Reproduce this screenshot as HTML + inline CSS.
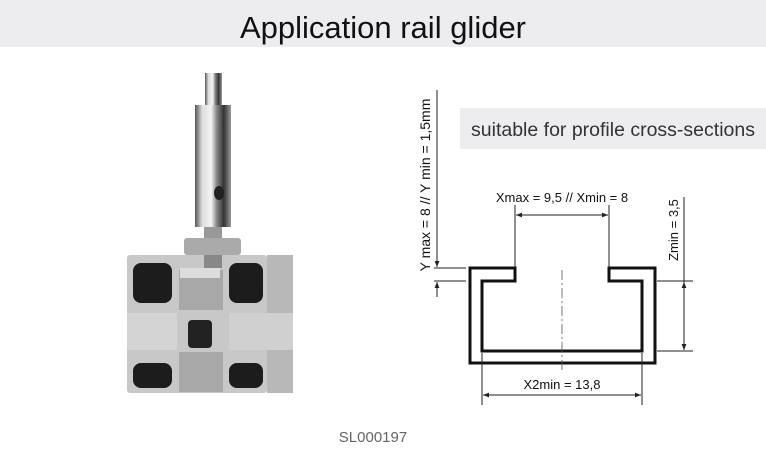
<!DOCTYPE html>
<html><head><meta charset="utf-8"><style>
html,body{margin:0;padding:0;background:#fff;}
body{width:766px;height:450px;position:relative;overflow:hidden;font-family:"Liberation Sans",sans-serif;}
</style></head><body>
<svg width="766" height="450" viewBox="0 0 766 450" xmlns="http://www.w3.org/2000/svg" style="position:absolute;left:0;top:0">
<defs>
<linearGradient id="metal" x1="0" x2="1" y1="0" y2="0">
<stop offset="0" stop-color="#555"/><stop offset="0.2" stop-color="#ddd"/><stop offset="0.45" stop-color="#f4f4f4"/><stop offset="0.6" stop-color="#888"/><stop offset="0.8" stop-color="#333"/><stop offset="1" stop-color="#999"/>
</linearGradient>
<marker id="ar" viewBox="0 0 10 10" refX="10" refY="5" markerWidth="8" markerHeight="6" orient="auto-start-reverse"><path d="M0,1 L10,5 L0,9 z" fill="#222"/></marker>
</defs>
<rect x="0" y="0" width="766" height="47" fill="#ededf0"/>
<text x="383" y="38" text-anchor="middle" font-size="31" fill="#111">Application rail glider</text>

<!-- photo -->
<rect x="267" y="255" width="26" height="138" fill="#b8b8b8"/>
<rect x="127" y="255" width="140" height="138" fill="#c8c8c8" rx="3"/>
<rect x="127" y="313" width="50" height="37" fill="#d4d4d4"/>
<rect x="229" y="313" width="64" height="37" fill="#d0d0d0"/>
<rect x="133" y="263" width="39" height="40" fill="#1c1c1c" rx="8"/>
<rect x="229" y="263" width="34" height="40" fill="#1c1c1c" rx="8"/>
<rect x="133" y="363" width="39" height="25" fill="#1c1c1c" rx="8"/>
<rect x="229" y="363" width="34" height="25" fill="#1c1c1c" rx="8"/>
<rect x="179" y="270" width="44" height="40" fill="#a8a8a8"/>
<rect x="179" y="352" width="44" height="40" fill="#a8a8a8"/>
<rect x="188" y="320" width="24" height="28" fill="#222" rx="4"/>
<rect x="180" y="268" width="40" height="10" fill="#ddd"/>
<rect x="205" y="73" width="17" height="34" fill="url(#metal)"/>
<rect x="195" y="105" width="36" height="122" fill="url(#metal)"/>
<ellipse cx="219" cy="193" rx="5" ry="7" fill="#222"/>
<rect x="204" y="227" width="18" height="13" fill="#999"/>
<rect x="184" y="238" width="57" height="17" fill="#aaa" rx="3"/>
<rect x="204" y="255" width="18" height="13" fill="#888"/>
<text x="373" y="442" text-anchor="middle" font-size="15" fill="#666">SL000197</text>

<!-- diagram -->
<rect x="460" y="108" width="306" height="41" fill="#ededf0"/>
<text x="613" y="136" text-anchor="middle" font-size="19.5" fill="#333">suitable for profile cross-sections</text>

<path d="M470,268 H515 V281 H482 V351 H642 V281 H609 V268 H655 V363 H470 Z" fill="none" stroke="#111" stroke-width="3"/>
<line x1="562" y1="270" x2="562" y2="372" stroke="#555" stroke-width="0.8" stroke-dasharray="10,3,2,3"/>

<g stroke="#222" stroke-width="1" fill="none">
<line x1="515" y1="205" x2="515" y2="267"/>
<line x1="609" y1="205" x2="609" y2="267"/>
<line x1="516" y1="215" x2="608" y2="215" marker-start="url(#ar)" marker-end="url(#ar)"/>
<line x1="482" y1="353" x2="482" y2="405"/>
<line x1="642" y1="353" x2="642" y2="405"/>
<line x1="483" y1="395" x2="641" y2="395" marker-start="url(#ar)" marker-end="url(#ar)"/>
<line x1="657" y1="281" x2="693" y2="281"/>
<line x1="657" y1="351" x2="693" y2="351"/>
<line x1="684" y1="197" x2="684" y2="282"/>
<line x1="684" y1="282" x2="684" y2="350" marker-start="url(#ar)" marker-end="url(#ar)"/>
<line x1="434" y1="268" x2="466" y2="268"/>
<line x1="434" y1="281" x2="466" y2="281"/>
<line x1="437" y1="90" x2="437" y2="267" marker-end="url(#ar)"/>
<line x1="437" y1="297" x2="437" y2="282" marker-end="url(#ar)"/>
</g>
<text x="562" y="202" text-anchor="middle" font-size="13" fill="#111">Xmax = 9,5 // Xmin = 8</text>
<text x="562" y="389" text-anchor="middle" font-size="13" fill="#111">X2min = 13,8</text>
<text transform="translate(678,230) rotate(-90)" text-anchor="middle" font-size="13" fill="#111">Zmin = 3,5</text>
<text transform="translate(430,185) rotate(-90)" text-anchor="middle" font-size="14" fill="#111">Y max = 8 // Y min = 1,5mm</text>
</svg>
</body></html>
